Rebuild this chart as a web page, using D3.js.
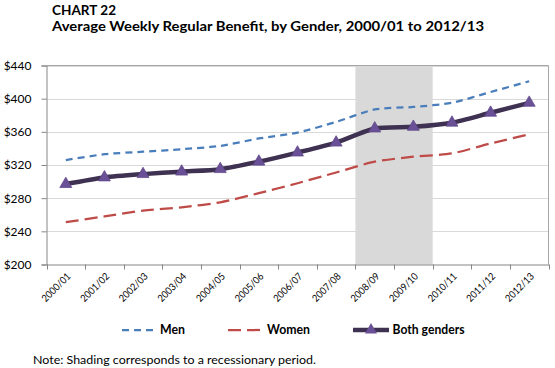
<!DOCTYPE html>
<html>
<head>
<meta charset="utf-8">
<script src="https://cdn.jsdelivr.net/npm/d3@7"></script>
<style>
  body { margin: 0; background: #fff; }
  text { font-family: Lato, "Open Sans", sans-serif; fill: #000; }
</style>
</head>
<body>
<div id="chart"></div>
<script>
// values
const years = ["2000/01", "2001/02", "2002/03", "2003/04", "2004/05", "2005/06", "2006/07",
               "2007/08", "2008/09", "2009/10", "2010/11", "2011/12", "2012/13"];
const men = [326, 333, 336, 339, 343, 352, 359, 372, 387, 390, 395, 408, 421];
const women = [251, 258, 265, 269, 275, 286, 298, 311, 324, 330, 334, 346, 357];
const both = [297, 305, 309, 312, 315, 324, 335, 347, 364, 366, 371, 383, 395];
const yTicks = [200, 240, 280, 320, 360, 400, 440];
const recession = ["2008/09", "2009/10"];

const W = 555, H = 368;
const plot = {left: 46.5, right: 548.5, top: 65.5, bottom: 264.5};

const svg = d3.select("#chart").append("svg")
    .attr("width", W)
    .attr("height", H);

const x = d3.scaleBand().domain(years).range([plot.left, plot.right]);
const y = d3.scaleLinear().domain([200, 440]).range([plot.bottom, plot.top]);
const bw = x.bandwidth();

// title
svg.append("text")
    .attr("x", 52).attr("y", 14.5)
    .style("font-weight", "bold").style("font-size", "13px")
    .attr("textLength", 64).attr("lengthAdjust", "spacingAndGlyphs")
    .text("CHART 22");
svg.append("text")
    .attr("x", 52).attr("y", 30.5)
    .style("font-weight", "bold").style("font-size", "13.5px")
    .attr("textLength", 432).attr("lengthAdjust", "spacingAndGlyphs")
    .text("Average Weekly Regular Benefit, by Gender, 2000/01 to 2012/13");

// gridlines
svg.append("g")
    .selectAll("line")
    .data(yTicks.filter(d => d > 200))
    .join("line")
    .attr("x1", plot.left).attr("x2", plot.right)
    .attr("y1", d => Math.round(y(d)) + 0.5).attr("y2", d => Math.round(y(d)) + 0.5)
    .attr("stroke", "#d9d9d9");

// recession shading
svg.append("rect")
    .attr("x", x(recession[0]))
    .attr("y", plot.top)
    .attr("width", x(recession[recession.length - 1]) + bw - x(recession[0]))
    .attr("height", plot.bottom - plot.top)
    .attr("fill", "#d9d9d9");

// plot frame top and right
svg.append("path")
    .attr("d", `M${plot.left},${plot.top}H${plot.right}V${plot.bottom}`)
    .attr("fill", "none")
    .attr("stroke", "#a6a6a6");

// y axis
const yAxis = svg.append("g")
    .attr("transform", `translate(${plot.left},0)`)
    .call(d3.axisLeft(y).tickValues(yTicks).tickSize(5).tickPadding(10).tickFormat(d => "$" + d));
yAxis.select(".domain").attr("stroke", "#868686");
yAxis.selectAll(".tick line").attr("stroke", "#868686");
yAxis.selectAll(".tick text").style("font-size", "12px").style("font-family", "Lato, sans-serif");

// x axis
const xAxis = svg.append("g")
    .attr("transform", `translate(0,${plot.bottom})`)
    .call(d3.axisBottom(x).tickSize(0).tickFormat(""));
xAxis.select(".domain").attr("stroke", "#868686");
svg.append("g")
    .selectAll("line")
    .data(years.map(d => x(d)).concat([x.range()[1]]))
    .join("line")
    .attr("x1", d => Math.round(d) + 0.5).attr("x2", d => Math.round(d) + 0.5)
    .attr("y1", plot.bottom).attr("y2", plot.bottom + 5)
    .attr("stroke", "#868686");
svg.append("g")
    .selectAll("text")
    .data(years)
    .join("text")
    .attr("transform", d => `translate(${x(d) + bw / 2 + 3},${plot.bottom + 10}) rotate(-45)`)
    .attr("text-anchor", "end")
    .attr("dy", "0.35em")
    .style("font-size", "10px")
    .attr("textLength", 36).attr("lengthAdjust", "spacingAndGlyphs")
    .text(d => d);

// lines
const line = d3.line()
    .x((d, i) => x(years[i]) + bw / 2)
    .y(d => y(d))
    .curve(d3.curveCardinal.tension(0.3));

svg.append("path")
    .datum(men)
    .attr("d", line)
    .attr("fill", "none")
    .attr("stroke", "#4a7ebb")
    .attr("stroke-width", 2.25)
    .attr("stroke-dasharray", "7,5");

svg.append("path")
    .datum(women)
    .attr("d", line)
    .attr("fill", "none")
    .attr("stroke", "#be4b48")
    .attr("stroke-width", 2.25)
    .attr("stroke-dasharray", "13,6");

svg.append("path")
    .datum(both)
    .attr("d", line)
    .attr("fill", "none")
    .attr("stroke", "#3f3151")
    .attr("stroke-width", 4.5);

const tri = d3.symbol().type(d3.symbolTriangle).size(62);
svg.append("g")
    .selectAll("path")
    .data(both)
    .join("path")
    .attr("transform", (d, i) => `translate(${x(years[i]) + bw / 2},${y(d)})`)
    .attr("d", tri)
    .attr("fill", "#6a5096")
    .attr("stroke", "#5f4788")
    .attr("stroke-width", 0.75);

// legend
const legY = 330;
const legend = [
  {name: "Men", x1: 122, x2: 157, color: "#4a7ebb", width: 2.25, dash: "7,5", tx: 160, tl: 25},
  {name: "Women", x1: 228, x2: 263, color: "#be4b48", width: 2.25, dash: "13,6", tx: 267, tl: 43},
  {name: "Both genders", x1: 353, x2: 389, color: "#3f3151", width: 4.5, dash: null, tx: 392.5, tl: 72}
];
const lg = svg.append("g").selectAll("g").data(legend).join("g");
lg.append("line")
    .attr("x1", d => d.x1).attr("x2", d => d.x2)
    .attr("y1", legY).attr("y2", legY)
    .attr("stroke", d => d.color)
    .attr("stroke-width", d => d.width)
    .attr("stroke-dasharray", d => d.dash);
lg.append("text")
    .attr("x", d => d.tx).attr("y", legY + 4)
    .style("font-size", "12.5px").style("font-weight", "bold")
    .attr("textLength", d => d.tl).attr("lengthAdjust", "spacingAndGlyphs")
    .text(d => d.name);
svg.append("path")
    .attr("transform", `translate(${(353 + 389) / 2},${legY})`)
    .attr("d", tri)
    .attr("fill", "#6a5096");

// note
svg.append("text")
    .attr("x", 33).attr("y", 364)
    .style("font-size", "11.5px")
    .attr("textLength", 283).attr("lengthAdjust", "spacingAndGlyphs")
    .text("Note: Shading corresponds to a recessionary period.");
</script>
</body>
</html>
